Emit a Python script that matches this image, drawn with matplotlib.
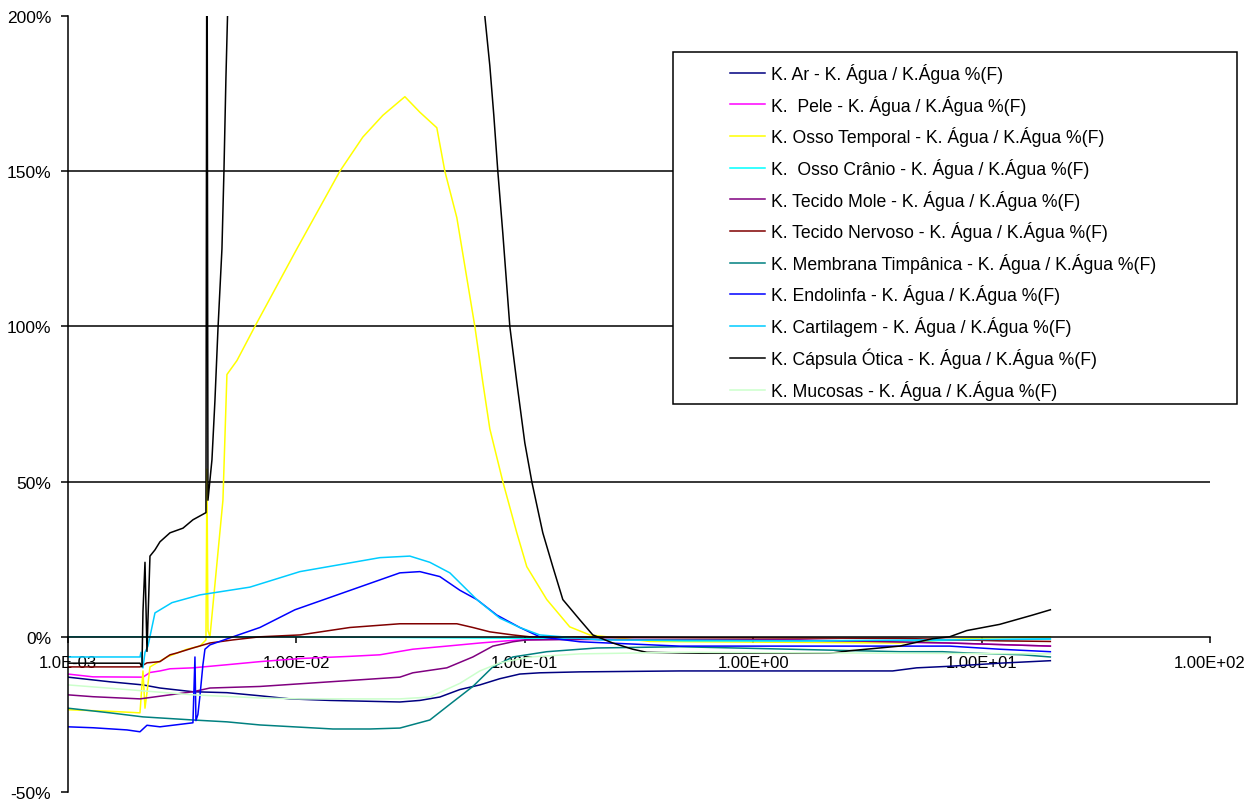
import matplotlib
matplotlib.use("Agg")
import matplotlib.pyplot as plt
import matplotlib.patches as patches

# frequency (Hz) and relative difference (%)
ar_x = [0.001, 0.001527, 0.002129, 0.002527, 0.003524, 0.004964, 0.006922, 0.009367, 0.01401,
        0.02838, 0.03472, 0.04246, 0.05195, 0.06354, 0.07773, 0.09509, 0.1163, 0.174, 0.4768,
        4.078, 5.194, 7.244, 11.99, 20]
ar_y = [-13, -14.5, -15.5, -16.5, -17.7, -18, -19, -20, -20.5, -21, -20.5, -19.4, -17, -15.5,
        -13.5, -12, -11.6, -11.3, -11, -11, -10, -9.5, -8.5, -7.7]

pele_x = [0.001, 0.001286, 0.002129, 0.002285, 0.002527, 0.002796, 0.003524, 0.004964, 0.006922,
          0.01036, 0.01715, 0.0232, 0.03234, 0.04556, 0.06354, 0.08341, 0.09799, 0.1423, 0.3524,
          1.598, 7.244, 11.99, 20]
pele_y = [-12, -12.9, -13, -11.5, -11, -10.3, -10, -9, -8, -7, -6.3, -5.8, -4, -3, -2, -1.3, -1,
          -0.8, -1, -1.2, -2, -2.5, -3]

temporal_x = [0.001, 0.001527, 0.002066, 0.002129, 0.002173, 0.002217, 0.002285, 0.002713, 0.003318,
              0.003782, 0.004018, 0.004058, 0.0041, 0.004183, 0.004768, 0.004964, 0.005492, 0.006582,
              0.01005, 0.0155, 0.01954, 0.02391, 0.02985, 0.03472, 0.04119, 0.04466, 0.05041, 0.06043,
              0.06549, 0.07028, 0.08012, 0.09226, 0.102, 0.1248, 0.1573, 0.1925, 0.3524, 4.376, 8.86, 20]
temporal_y = [-23.5, -24, -24.5, -11, -23, -18, -9.7, -6.5, -4, -3, -1, 54, 2, 0, 44, 84.5, 89, 100,
              125, 150, 161, 168, 174, 169, 164, 150, 135, 100, 82, 67, 50, 33.5, 22.6, 12, 3.2, 0.6,
              -1.5, -2, -0.5, 0]

cranio_x = [0.001, 0.01, 0.1163, 0.5, 5, 20]
cranio_y = [0, 0, -0.5, -1.3, -1.3, -0.7]

mole_x = [0.001, 0.001286, 0.002066, 0.002796, 0.003524, 0.004183, 0.006922, 0.02838, 0.03234,
          0.04556, 0.05923, 0.07244, 0.08862, 0.102, 0.213, 1.598, 7.244, 20]
mole_y = [-18.7, -19.3, -20, -18.7, -17.7, -16.5, -16, -13, -11.6, -10, -6.5, -3, -1.6, -1, -0.8,
          -1, -2, -3]

nervoso_x = [0.001, 0.002066, 0.002217, 0.002527, 0.002796, 0.003, 0.003524, 0.004183, 0.005273,
             0.006922, 0.01036, 0.01715, 0.02838, 0.05041, 0.05923, 0.07028, 0.08862, 0.1052,
             0.5834, 4.376, 11.99, 20]
nervoso_y = [-9.7, -9.7, -8.4, -8, -5.8, -5.2, -3.6, -2, -1, 0, 0.6, 3, 4.2, 4.2, 3, 1.6, 0.6, 0,
             -0.3, -0.5, -1.3, -1.5]

membrana_x = [0.001, 0.001527, 0.002129, 0.003524, 0.004964, 0.006922, 0.01445, 0.02098, 0.02838,
              0.03839, 0.04841, 0.05923, 0.07244, 0.08862, 0.1248, 0.2067, 0.4768, 4.376, 6.748,
              8.6, 15.12, 20]
membrana_y = [-23, -24.5, -25.8, -26.8, -27.4, -28.4, -29.7, -29.7, -29.4, -26.8, -21, -16, -9.7,
              -6.5, -4.8, -3.6, -3.2, -4.8, -4.8, -5.2, -5.8, -6.5]

endolinfa_x = [0.001, 0.001286, 0.001812, 0.002066, 0.002217, 0.002527, 0.003524, 0.003596,
               0.003632, 0.003705, 0.003782, 0.003897, 0.003977, 0.004183, 0.005273, 0.006922,
               0.009849, 0.02838, 0.03472, 0.04246, 0.05195, 0.06166, 0.07542, 0.09509, 0.1163,
               0.174, 0.4768, 7.244, 11.99, 20]
endolinfa_y = [-29, -29.3, -30, -30.6, -28.5, -29, -27.7, -6.5, -27, -25, -19, -9, -4, -2.6, 0, 3,
               8.7, 20.6, 21, 19.4, 15, 12, 7, 3, 0, -1.6, -3, -3, -4, -4.8]

cartilagem_x = [0.001, 0.002066, 0.002087, 0.002129, 0.002173, 0.002239, 0.002403, 0.002852,
                0.003782, 0.006259, 0.01036, 0.0232, 0.03139, 0.03839, 0.04697, 0.06166, 0.07773,
                0.09509, 0.1163, 0.213, 1.598, 20]
cartilagem_y = [-6.5, -6.5, -5, -10, -5, -3, 7.7, 11, 13.5, 16, 21, 25.5, 26, 24, 20.6, 12, 6, 3,
                0.6, -1, -1.3, -0.7]

capsula_x = [0.001, 0.002066, 0.002108, 0.002129, 0.002173, 0.002217, 0.002285, 0.002403, 0.002527,
             0.002796, 0.003187, 0.003524, 0.004018, 0.004058, 0.0041, 0.004268, 0.004398, 0.004534,
             0.004721, 0.004817, 0.004914, 0.005014, 0.01036, 0.02838, 0.05745, 0.06682, 0.07028,
             0.07317, 0.07618, 0.08012, 0.08598, 0.09226, 0.1, 0.1073, 0.1163, 0.1199, 0.1326,
             0.1467, 0.174, 0.1985, 0.2427, 0.2969, 0.342, 0.5834, 2.161, 2.644, 4.376, 6.1, 7.244,
             8.6, 11.99, 16.72, 20]
capsula_y = [-8.5, -8.5, -9.7, 8, 24, -4.7, 26, 28, 30.6, 33.5, 35, 37.7, 40, 260, 44, 57, 76, 99,
             125, 150, 180, 205, 350, 400, 260, 200, 184, 168, 150, 130, 100, 82, 62.5, 50, 38, 33.5,
             22.6, 12, 5.5, 0.6, -2, -4, -5, -5.3, -5.3, -4.5, -3, -0.6, 0, 2, 4, 7, 8.7]

mucosas_x = [0.001, 0.001812, 0.003524, 0.006922, 0.01036, 0.02838, 0.03839, 0.05195, 0.06354,
             0.07773, 0.1052, 0.174, 0.4768, 20]
mucosas_y = [-15.5, -17, -18.7, -19.7, -20, -20, -19.4, -15, -11, -8.4, -6.5, -5.5, -5, -5.5]

labels = [
    "K. Ar - K. Água / K.Água %(F)",
    "K.  Pele - K. Água / K.Água %(F)",
    "K. Osso Temporal - K. Água / K.Água %(F)",
    "K.  Osso Crânio - K. Água / K.Água %(F)",
    "K. Tecido Mole - K. Água / K.Água %(F)",
    "K. Tecido Nervoso - K. Água / K.Água %(F)",
    "K. Membrana Timpânica - K. Água / K.Água %(F)",
    "K. Endolinfa - K. Água / K.Água %(F)",
    "K. Cartilagem - K. Água / K.Água %(F)",
    "K. Cápsula Ótica - K. Água / K.Água %(F)",
    "K. Mucosas - K. Água / K.Água %(F)",
]
colors = ["#000080", "#FF00FF", "#FFFF00", "#00FFFF", "#800080", "#800000",
          "#008080", "#0000FF", "#00CCFF", "#000000", "#CCFFCC"]

xticks = [1e-3, 1e-2, 1e-1, 1, 10, 100]
xtick_labels = ["1.0E-03", "1.00E-02", "1.00E-01", "1.00E+00", "1.00E+01", "1.00E+02"]
yticks = [-50, 0, 50, 100, 150, 200]
ytick_labels = ["-50%", "0%", "50%", "100%", "150%", "200%"]

plt.rcParams['font.family'] = ['Liberation Sans', 'DejaVu Sans']

fig = plt.figure(figsize=(12.57, 8.03), dpi=100)
W, H = 1257, 803
ax = fig.add_axes([68 / W, (H - 793) / H, (1210 - 68) / W, (793 - 17) / H])

series = [(ar_x, ar_y), (pele_x, pele_y), (temporal_x, temporal_y), (cranio_x, cranio_y),
          (mole_x, mole_y), (nervoso_x, nervoso_y), (membrana_x, membrana_y),
          (endolinfa_x, endolinfa_y), (cartilagem_x, cartilagem_y), (capsula_x, capsula_y),
          (mucosas_x, mucosas_y)]
handles = []
for (xs, ys), lab, col in zip(series, labels, colors):
    h, = ax.plot(xs, ys, color=col, lw=1.1, label=lab)
    handles.append(h)

ax.set_xscale('log')
ax.set_xlim(1e-3, 1e2)
ax.set_ylim(-50, 200)

# gridlines at 50/100/150
for g in [50, 100, 150]:
    ax.axhline(g, color='black', lw=1.1, zorder=1)

ax.spines['top'].set_visible(False)
ax.spines['right'].set_visible(False)
ax.spines['bottom'].set_position(('data', 0))
ax.spines['bottom'].set_linewidth(1.1)
ax.spines['left'].set_linewidth(1.1)

ax.set_xticks(xticks)
ax.set_xticklabels(xtick_labels)
ax.xaxis.set_minor_locator(matplotlib.ticker.NullLocator())
ax.set_yticks(yticks)
ax.set_yticklabels(ytick_labels)
ax.tick_params(axis='x', direction='out', length=4, width=1.1, pad=9, labelsize=12, colors='black')
ax.tick_params(axis='y', direction='out', length=5, width=1.1, pad=7, labelsize=12.5, colors='black')

# legend with a separate frame, like the Excel box
frame = patches.Rectangle((673 / W, (H - 405) / H), (1237 - 673) / W, (405 - 53) / H,
                          transform=fig.transFigure, fill=True, fc='white', ec='black', lw=1.1,
                          zorder=5)
fig.patches.append(frame)
leg = fig.legend(handles=handles, loc='upper left', bbox_to_anchor=(730 / W, (H - 64) / H),
                 frameon=False, fontsize=12.7, borderpad=0, borderaxespad=0,
                 handlelength=2.0, handletextpad=0.3, labelspacing=0.66)
leg.set_zorder(6)

fig.savefig('out.png', dpi=100)
